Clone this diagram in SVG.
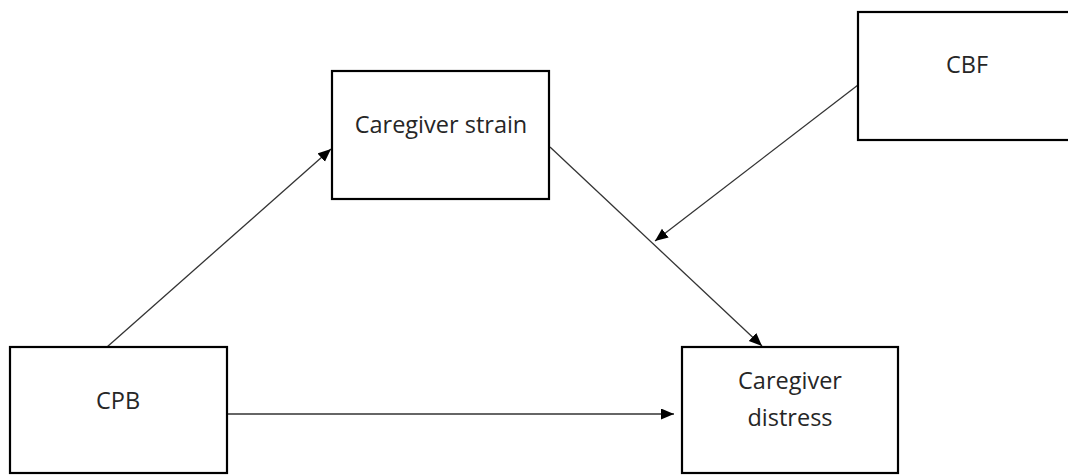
<svg xmlns="http://www.w3.org/2000/svg" width="1068" height="476" viewBox="0 0 1068 476">
<style>
.box{fill:#fff;stroke:#000;stroke-width:2.2}
.lbl{font-family:"Open Sans","Liberation Sans",sans-serif;font-size:23.5px;fill:#262626;text-anchor:middle}
.conn{stroke:#333;stroke-width:1.3;fill:none;marker-end:url(#ah)}
</style>
<defs>
<marker id="ah" markerUnits="userSpaceOnUse" markerWidth="14" markerHeight="12" refX="13" refY="5.5" orient="auto" viewBox="0 0 14 12">
<path d="M0,0 L13,5.5 L0,11 Z" fill="#000"/>
</marker>
</defs>
<rect width="1068" height="476" fill="#fff"/>
<g id="connectors">
<line class="conn" x1="107" y1="347" x2="331" y2="149"/>
<line class="conn" x1="550" y1="147" x2="762" y2="346"/>
<line class="conn" x1="858" y1="85" x2="655" y2="241"/>
<line class="conn" x1="227" y1="414" x2="674" y2="414"/>
</g>
<g id="strain">
<rect class="box" x="332" y="71" width="217" height="128"/>
<text class="lbl" x="441" y="133">Caregiver strain</text>
</g>
<g id="cbf">
<rect class="box" x="858" y="12" width="220" height="128"/>
<text class="lbl" x="967" y="73">CBF</text>
</g>
<g id="cpb">
<rect class="box" x="10" y="347" width="217" height="126"/>
<text class="lbl" x="118" y="409">CPB</text>
</g>
<g id="distress">
<rect class="box" x="682" y="347" width="216" height="126"/>
<text class="lbl" x="790" y="389">Caregiver</text>
<text class="lbl" x="790" y="426">distress</text>
</g>
</svg>
